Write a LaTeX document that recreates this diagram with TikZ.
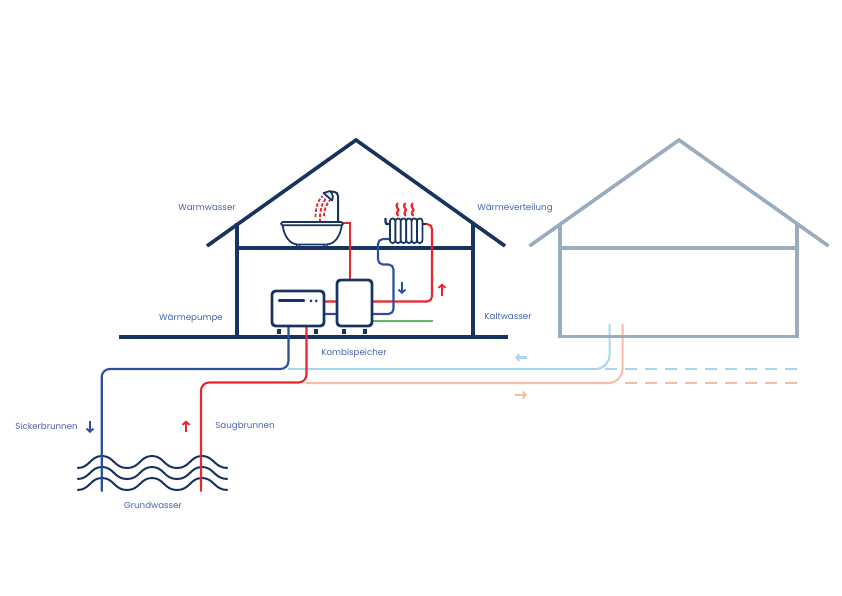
\documentclass[tikz,border=0pt]{standalone}
\usepackage{fontspec}
\setmainfont{Poppins}
\usetikzlibrary{arrows.meta}
\definecolor{navy}{HTML}{16345F}
\definecolor{ghost}{HTML}{9BACBE}
\definecolor{hot}{HTML}{E9252F}
\definecolor{cold}{HTML}{2B4F9E}
\definecolor{paleblue}{HTML}{A9D6E8}
\definecolor{paleorange}{HTML}{F9BBA5}
\definecolor{circuitgreen}{HTML}{5FBB68}
\definecolor{caption}{HTML}{4460AE}
\tikzset{
  house/.style={line width=3.6pt,line cap=butt,line join=miter},
  unit/.style={draw=navy,line width=2.8pt,rounded corners=3.5pt,fill=white,inner sep=0pt,minimum width=#1},
  pipe/.style={line width=2.1pt,rounded corners=8pt},
  tagtext/.style={text=caption,font=\fontsize{8.7}{10}\selectfont,inner sep=0pt},
  flow/.style={line width=2.2pt,-{Straight Barb[length=3.2pt,width=7pt,line width=1.8pt]}},
  fixture/.style={draw=navy,line width=1.7pt,line join=round,fill=white},
  foot/.style={fill=navy,inner sep=0pt,minimum width=4pt,minimum height=5pt},
  wave/.style={draw=navy,line width=2pt}
}
\newcommand{\waveline}[1]{%
  \draw[wave] (77.3,#1) .. controls (90,#1) and (90,#1-12) .. (102,#1-12)
    .. controls (114,#1-12) and (114,#1) .. (127,#1)
    .. controls (140,#1) and (140,#1-12) .. (152,#1-12)
    .. controls (164,#1-12) and (164,#1) .. (177,#1)
    .. controls (190,#1) and (190,#1-12) .. (202,#1-12)
    .. controls (214,#1-12) and (214,#1) .. (227.7,#1);}
\begin{document}
\begin{tikzpicture}[x=1pt,y=-1pt]
\useasboundingbox (0,0) rectangle (842,596);

% outgoing loop running to the second building
\draw[line width=2pt,paleblue,rounded corners=14pt] (288,369) -- (609.5,369) -- (609.5,324);
\draw[line width=2pt,paleorange,rounded corners=14pt] (306,383) -- (622.5,383) -- (622.5,324);
\draw[line width=2pt,paleblue,dash pattern=on 12pt off 8pt] (605,369) -- (797,369);
\draw[line width=2pt,paleorange,dash pattern=on 12pt off 8pt] (625,383) -- (797,383);
\draw[flow,paleblue] (527,357.5) -- (515,357.5);
\draw[flow,paleorange] (515,395) -- (527,395);

% second building
\draw[house,ghost] (529.5,246) -- (679,140) -- (828.5,246);
\draw[house,ghost] (560,223) -- (560,336.5) -- (797,336.5) -- (797,223);
\draw[house,ghost] (560,248) -- (797,248);

% main building
\draw[house,navy] (207,246) -- (356,140) -- (505,246);
\draw[house,navy] (237,223) -- (237,337);
\draw[house,navy] (473,223) -- (473,337);
\draw[house,navy] (237,248) -- (473,248);
\draw[house,navy] (119,337) -- (508,337);

% well shafts and ground water
\waveline{468}
\waveline{479}
\waveline{490}
\coordinate (pumpcold) at (288.5,326);
\coordinate (pumphot) at (306.5,326);
\coordinate (sink) at (101.7,491.5);
\coordinate (source) at (201,491.5);
\draw[pipe,cold] (pumpcold) -- (288.5,369) -- (101.7,369) -- (sink);
\draw[pipe,hot] (pumphot) -- (306.5,382.5) -- (201,382.5) -- (source);

% heat pump and combination tank
\node[foot] at (279,331) {};
\node[foot] at (316,331) {};
\node[foot] at (343.5,331) {};
\node[foot] at (365,331) {};
\coordinate (bathin) at (343,223);
\coordinate (radin) at (423,224);
\coordinate (radout) at (390,239);
\draw[pipe,hot,rounded corners=0pt] (bathin) -- (350,223) -- (350,281);
\draw[pipe,hot,rounded corners=5pt] (324,301.5) -- (432,301.5) -- (432,224) -- (radin);
\draw[pipe,cold,rounded corners=5pt] (324,314) -- (393.5,314) -- (393.5,264.5) -- (378,264.5) -- (378,239) -- (radout);
\draw[line width=2pt,circuitgreen] (372,321) -- (433,321);
\node[unit=52pt,minimum height=35pt] (pump) at (298,308.5) {};
\node[unit=35pt,minimum height=46pt] (tank) at (354.5,303) {};
\draw[navy,line width=2.4pt,line cap=round] (279,300.5) -- (304,300.5);
\fill[navy] (311,300.8) circle (1.5pt) (316.2,300.8) circle (1.5pt);

% bath with shower
\draw[hot,line width=1.8pt,dash pattern=on 3.4pt off 1.8pt] (315.5,217) .. controls (315.5,208) and (318,200) .. (322.5,196);
\draw[hot,line width=1.8pt,dash pattern=on 3.4pt off 1.8pt] (320,222) .. controls (319.5,212) and (321.5,204) .. (326,198);
\draw[hot,line width=1.8pt,dash pattern=on 3.4pt off 1.8pt] (324,216) .. controls (324,210) and (326,205) .. (330,200);
\draw[navy,line width=2pt,rounded corners=4pt] (338,222) -- (338,192) -- (329,191.5);
\draw[fixture,fill=navy!12] (323.5,193) -- (330,191) .. controls (333,194) and (333.5,197) .. (332,200.5) -- cycle;
\draw[fixture] (282.5,224) .. controls (283.5,236) and (290,244.5) .. (298,244.5) -- (326,244.5) .. controls (335,244.5) and (340.5,236) .. (342,224) -- cycle;
\draw[fixture,rounded corners=1.5pt] (281,222) rectangle (343,225.3);
\draw[navy,line width=1.3pt] (296.5,245) -- (297.5,248) (299.5,245) -- (300,248);
\draw[navy,line width=1.3pt] (324,245) -- (323.5,248) (327,245) -- (326.5,248);

% radiator with rising heat
\draw[navy,line width=2.3pt] (385.5,218) -- (385.5,222) .. controls (385.5,224) and (386,224) .. (391,224);
\draw[navy,line width=2.3pt] (421,224) -- (426,224);
\foreach \sx in {390,395.4,400.8,406.2,411.6,417}{
  \draw[fixture,rounded corners=2.5pt] (\sx,218.5) rectangle ++(5.4,24.5);
}
\foreach \hx in {397.5,405,412.5}{
  \draw[hot,line width=2.2pt,line cap=round] (\hx,203.5) .. controls (\hx-3.5,207) and (\hx+3.5,209.5) .. (\hx,211.5) .. controls (\hx-1.5,213) and (\hx,214.5) .. (\hx+.5,215.5);
}

% direction arrows
\draw[flow,cold] (402,282) -- (402,294);
\draw[flow,hot] (442,296) -- (442,283.5);
\draw[flow,cold] (90,421) -- (90,433);
\draw[flow,hot] (186,432) -- (186,420.5);

% captions
\node[tagtext] (warm) at (207,208) {Warmwasser};
\node[tagtext] (dist) at (515,208) {Wärmeverteilung};
\node[tagtext] (hp) at (191,318) {Wärmepumpe};
\node[tagtext] (cold) at (508,316) {Kaltwasser};
\node[tagtext] (combi) at (354,353) {Kombispeicher};
\node[tagtext] (sickw) at (46.5,426) {Sickerbrunnen};
\node[tagtext] (suckw) at (245,426) {Saugbrunnen};
\node[tagtext] (ground) at (153,505) {Grundwasser};
\end{tikzpicture}
\end{document}
